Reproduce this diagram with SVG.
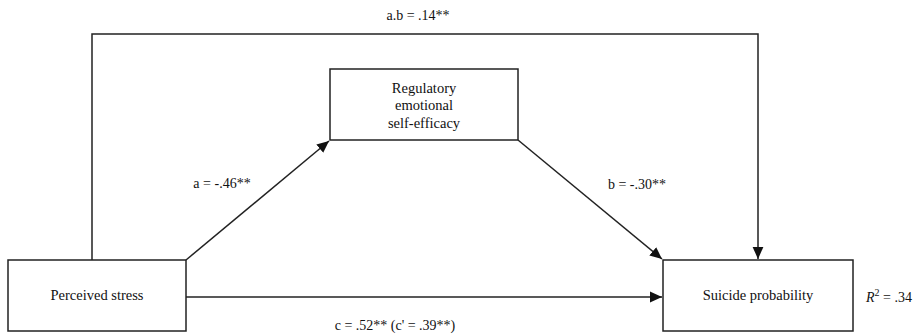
<svg xmlns="http://www.w3.org/2000/svg" width="915" height="335" viewBox="0 0 915 335">
<style>
.box{fill:#fff;stroke:#222;stroke-width:1.5}
.line{fill:none;stroke:#222;stroke-width:1.5}
.t{font-family:"Liberation Serif","Times New Roman",serif;font-size:14px;fill:#111}
.b{font-family:"Liberation Serif","Times New Roman",serif;font-size:14.5px;fill:#111}
</style>
<defs>
<marker id="ah2" viewBox="0 0 10 10" refX="10" refY="5" markerWidth="12" markerHeight="12" orient="auto" markerUnits="userSpaceOnUse">
<path d="M0,0.5 L10,5 L0,9.5 z" fill="#111"/>
</marker>
</defs>
<rect width="915" height="335" fill="#fff"/>
<g id="connectors">
<polyline class="line" points="92,260 92,34 758,34 758,259" marker-end="url(#ah2)"/>
<line class="line" x1="186" y1="260" x2="329" y2="141" marker-end="url(#ah2)"/>
<line class="line" x1="518" y1="140" x2="662" y2="259" marker-end="url(#ah2)"/>
<line class="line" x1="186" y1="297" x2="662" y2="297" marker-end="url(#ah2)"/>
</g>
<g id="labels">
<text class="t" x="418" y="20" text-anchor="middle">a.b = .14**</text>
<text class="t" x="222" y="188" text-anchor="middle">a = -.46**</text>
<text class="t" x="637" y="189" text-anchor="middle">b = -.30**</text>
<text class="t" x="395" y="330" text-anchor="middle">c = .52** (c' = .39**)</text>
<text class="t" x="866" y="302"><tspan font-style="italic">R</tspan><tspan dy="-6" font-size="10">2</tspan><tspan dy="6"> = .34</tspan></text>
</g>
<g id="node-stress">
<rect class="box" x="8" y="260" width="178" height="71"/>
<text class="b" x="97" y="300" text-anchor="middle">Perceived stress</text>
</g>
<g id="node-regulatory">
<rect class="box" x="330" y="69" width="188" height="71"/>
<text class="b" x="424" y="93" text-anchor="middle">Regulatory</text>
<text class="b" x="424" y="110" text-anchor="middle">emotional</text>
<text class="b" x="424" y="128" text-anchor="middle">self-efficacy</text>
</g>
<g id="node-suicide">
<rect class="box" x="663" y="260" width="190" height="71"/>
<text class="b" x="758" y="300" text-anchor="middle">Suicide  probability</text>
</g>
</svg>
